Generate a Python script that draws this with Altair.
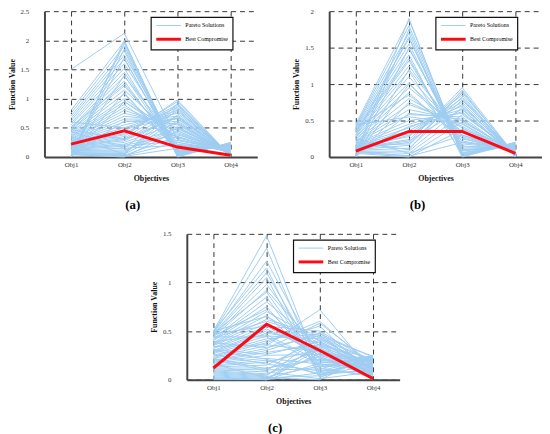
import altair as alt
import pandas as pd

OBJ = [1, 2, 3, 4]
TYPES = ["Pareto Solutions", "Best Compromise"]

# ---- panel (a) ----
a_obj1 = [1.50, 0.80, 0.75, 0.70, 0.66, 0.62, 0.58, 0.55, 0.50, 0.48, 0.46, 0.45, 0.42, 0.40, 0.38, 0.36, 0.35, 0.33, 0.31, 0.30,
          0.28, 0.27, 0.26, 0.25, 0.24, 0.23, 0.22, 0.21, 0.20, 0.19, 0.18, 0.17, 0.16, 0.15, 0.14, 0.13, 0.12, 0.11, 0.10, 0.09,
          0.08, 0.07, 0.06, 0.05, 0.05, 0.04, 0.04, 0.03, 0.03, 0.02, 0.02, 0.01, 0.01, 0.00, 0.00, 0.47, 0.44, 0.52, 0.60, 0.35]
a_obj2 = [2.12, 1.98, 1.90, 1.82, 1.75, 1.68, 1.60, 1.52, 1.45, 1.38, 1.30, 1.22, 1.15, 1.08, 1.00, 0.95, 0.90, 0.85, 0.80, 0.75,
          0.70, 0.65, 0.60, 0.55, 0.50, 0.45, 0.40, 0.38, 0.35, 0.32, 0.30, 0.28, 0.25, 0.22, 0.20, 0.18, 0.15, 0.12, 0.10, 0.08,
          0.06, 0.05, 0.04, 0.03, 0.02, 0.01, 0.00, 1.95, 1.70, 1.40, 1.10, 0.95, 0.62, 2.00, 1.85, 0.30, 0.15, 1.25, 0.50, 0.05]
a_obj3 = [0.30, 0.05, 0.10, 0.02, 0.15, 0.08, 0.20, 0.03, 0.12, 0.25, 0.06, 0.18, 0.30, 0.10, 0.35, 0.40, 0.22, 0.45, 0.50, 0.55,
          0.60, 0.65, 0.70, 0.75, 0.80, 0.85, 0.90, 0.95, 0.98, 0.88, 0.78, 0.68, 0.58, 0.48, 0.38, 0.28, 0.20, 0.42, 0.52, 0.62,
          0.72, 0.82, 0.92, 0.35, 0.25, 0.15, 0.45, 0.00, 0.04, 0.07, 0.11, 0.33, 0.57, 0.01, 0.09, 0.70, 0.85, 0.14, 0.66, 0.50]
a_obj4 = [0.10, 0.22, 0.18, 0.24, 0.15, 0.20, 0.12, 0.23, 0.16, 0.09, 0.21, 0.14, 0.08, 0.19, 0.07, 0.06, 0.13, 0.05, 0.04, 0.06,
          0.03, 0.05, 0.02, 0.04, 0.02, 0.03, 0.01, 0.02, 0.01, 0.03, 0.04, 0.05, 0.06, 0.08, 0.10, 0.12, 0.15, 0.07, 0.05, 0.04,
          0.03, 0.02, 0.01, 0.09, 0.11, 0.17, 0.06, 0.25, 0.22, 0.20, 0.18, 0.09, 0.04, 0.24, 0.21, 0.03, 0.02, 0.19, 0.05, 0.08]
a_best = [0.22, 0.45, 0.17, 0.03]

# ---- panel (b) ----
b_obj1 = [0.45, 0.43, 0.42, 0.40, 0.38, 0.36, 0.35, 0.33, 0.31, 0.30, 0.28, 0.27, 0.25, 0.24, 0.22, 0.21, 0.20, 0.19, 0.18, 0.17,
          0.16, 0.15, 0.14, 0.13, 0.12, 0.11, 0.10, 0.09, 0.08, 0.07, 0.06, 0.05, 0.04, 0.03, 0.02, 0.01, 0.00, 0.00, 0.02, 0.05,
          0.10, 0.15, 0.20, 0.25, 0.30, 0.35, 0.40, 0.44, 0.12, 0.08]
b_obj2 = [1.88, 1.80, 1.70, 1.62, 1.55, 1.48, 1.40, 1.32, 1.25, 1.18, 1.10, 1.02, 0.95, 0.88, 0.80, 0.72, 0.65, 0.58, 0.50, 0.45,
          0.40, 0.36, 0.32, 0.28, 0.24, 0.20, 0.16, 0.12, 0.08, 0.05, 0.02, 0.00, 1.90, 1.75, 1.50, 1.20, 1.00, 0.75, 0.60, 0.42,
          0.30, 0.18, 0.10, 0.05, 1.65, 1.35, 0.85, 0.55, 0.22, 0.01]
b_obj3 = [0.05, 0.10, 0.02, 0.15, 0.08, 0.20, 0.00, 0.12, 0.25, 0.04, 0.30, 0.18, 0.35, 0.22, 0.40, 0.45, 0.50, 0.55, 0.60, 0.65,
          0.70, 0.75, 0.80, 0.85, 0.90, 0.95, 0.88, 0.78, 0.68, 0.58, 0.48, 0.38, 0.01, 0.06, 0.14, 0.28, 0.33, 0.42, 0.52, 0.62,
          0.72, 0.82, 0.92, 0.30, 0.03, 0.09, 0.26, 0.46, 0.66, 0.20]
b_obj4 = [0.18, 0.15, 0.20, 0.12, 0.17, 0.10, 0.19, 0.14, 0.08, 0.16, 0.06, 0.11, 0.05, 0.09, 0.04, 0.03, 0.05, 0.02, 0.04, 0.01,
          0.03, 0.02, 0.01, 0.00, 0.01, 0.02, 0.03, 0.04, 0.06, 0.07, 0.09, 0.12, 0.20, 0.18, 0.13, 0.07, 0.06, 0.04, 0.03, 0.02,
          0.01, 0.02, 0.00, 0.10, 0.19, 0.15, 0.08, 0.05, 0.02, 0.14]
b_best = [0.08, 0.35, 0.35, 0.05]

# ---- panel (c) ----
c_obj1 = [0.50, 0.49, 0.48, 0.47, 0.46, 0.45, 0.44, 0.42, 0.41, 0.40, 0.38, 0.37, 0.36, 0.35, 0.33, 0.32, 0.30, 0.29, 0.28, 0.27,
          0.25, 0.24, 0.23, 0.22, 0.20, 0.19, 0.18, 0.17, 0.15, 0.14, 0.13, 0.12, 0.11, 0.10, 0.09, 0.08, 0.07, 0.06, 0.05, 0.04,
          0.03, 0.02, 0.01, 0.00, 0.50, 0.48, 0.45, 0.43, 0.39, 0.34, 0.31, 0.26, 0.21, 0.16, 0.50, 0.47, 0.44, 0.38, 0.30, 0.22]
c_obj2 = [1.48, 1.35, 1.22, 1.10, 1.05, 0.98, 0.92, 0.85, 0.80, 0.75, 0.70, 0.66, 0.62, 0.58, 0.55, 0.52, 0.50, 0.48, 0.45, 0.42,
          0.40, 0.38, 0.35, 0.32, 0.30, 0.28, 0.25, 0.22, 0.20, 0.18, 0.15, 0.12, 0.10, 0.08, 0.06, 0.05, 0.04, 0.03, 0.02, 0.01,
          0.00, 0.00, 0.00, 0.00, 1.15, 0.90, 0.72, 0.60, 0.46, 0.36, 0.26, 0.16, 0.09, 0.02, 0.65, 0.55, 0.44, 0.33, 0.21, 0.11]
c_obj3 = [0.10, 0.05, 0.20, 0.15, 0.02, 0.25, 0.30, 0.08, 0.35, 0.12, 0.40, 0.18, 0.45, 0.22, 0.50, 0.28, 0.33, 0.38, 0.42, 0.47,
          0.55, 0.60, 0.72, 0.58, 0.48, 0.36, 0.26, 0.16, 0.06, 0.31, 0.41, 0.21, 0.11, 0.01, 0.24, 0.34, 0.44, 0.14, 0.04, 0.27,
          0.37, 0.17, 0.07, 0.32, 0.03, 0.13, 0.23, 0.43, 0.19, 0.29, 0.39, 0.09, 0.49, 0.00, 0.35, 0.25, 0.15, 0.45, 0.05, 0.30]
c_obj4 = [0.05, 0.10, 0.15, 0.20, 0.25, 0.08, 0.12, 0.18, 0.22, 0.03, 0.06, 0.14, 0.24, 0.09, 0.17, 0.21, 0.01, 0.11, 0.19, 0.23,
          0.04, 0.13, 0.07, 0.16, 0.02, 0.10, 0.20, 0.12, 0.22, 0.06, 0.15, 0.18, 0.25, 0.08, 0.03, 0.14, 0.19, 0.11, 0.24, 0.05,
          0.16, 0.21, 0.09, 0.13, 0.17, 0.23, 0.02, 0.12, 0.20, 0.07, 0.15, 0.22, 0.10, 0.25, 0.04, 0.18, 0.14, 0.08, 0.21, 0.01]
c_best = [0.12, 0.57, 0.30, 0.01]

FONT = "Liberation Serif"
BLUE = "#9ecdf2"
RED = "#ff0a14"


def frame(o1, o2, o3, o4, best):
    rows = []
    for i, vals in enumerate(zip(o1, o2, o3, o4)):
        for k, v in zip(OBJ, vals):
            rows.append({"id": i, "obj": k, "value": v, "type": TYPES[0]})
    for k, v in zip(OBJ, best):
        rows.append({"id": -1, "obj": k, "value": v, "type": TYPES[1]})
    return pd.DataFrame(rows)


def panel(df, ymax, ystep, label):
    yticks = [round(i * ystep, 2) for i in range(int(round(ymax / ystep)) + 1)]
    x = alt.X("obj:Q", scale=alt.Scale(domain=[0.5, 4.5], nice=False, zero=False),
              axis=alt.Axis(values=OBJ, labelExpr="'Obj' + datum.value", title="Objectives",
                            tickSize=0, labelPadding=4, titlePadding=7))
    y = alt.Y("value:Q", scale=alt.Scale(domain=[0, ymax], nice=False),
              axis=alt.Axis(values=yticks, format="~g", title="Function Value", tickSize=0,
                            labelPadding=16, titlePadding=4))
    color = alt.Color("type:N", scale=alt.Scale(domain=TYPES, range=[BLUE, RED]),
                      legend=alt.Legend(title=None, orient="none", legendX=108, legendY=6,
                                        symbolType="M-1,0H5.25", symbolSize=64, labelOffset=20,
                                        labelExpr="datum.label + '                          '"))
    sw = alt.StrokeWidth("type:N", scale=alt.Scale(domain=TYPES, range=[1.0, 3.0]))
    base = alt.Chart(df)
    pareto = base.transform_filter(alt.datum.type == TYPES[0]).mark_line().encode(
        x=x, y=y, detail="id:N", color=color, strokeWidth=sw)
    best = base.transform_filter(alt.datum.type == TYPES[1]).mark_line().encode(
        x=x, y=y, detail="id:N", color=color, strokeWidth=sw)
    return alt.layer(pareto, best).properties(
        width=216, height=148,
        title=alt.TitleParams(label, orient="bottom", fontSize=13, fontWeight="bold",
                              font=FONT, offset=17, anchor="middle", frame="bounds"))


pa = panel(frame(a_obj1, a_obj2, a_obj3, a_obj4, a_best), 2.5, 0.5, "(a)")
pb = panel(frame(b_obj1, b_obj2, b_obj3, b_obj4, b_best), 2.0, 0.5, "(b)")
pc = panel(frame(c_obj1, c_obj2, c_obj3, c_obj4, c_best), 1.5, 0.5, "(c)")

top = alt.hconcat(pa, pb, spacing=36).resolve_scale(
    color="independent", strokeWidth="independent").resolve_legend(
    color="independent", strokeWidth="independent")
chart = alt.vconcat(top, pc, spacing=18, center=True).resolve_scale(
    color="independent", strokeWidth="independent").resolve_legend(
    color="independent", strokeWidth="independent").properties(
    padding={"left": 0, "top": -4, "right": 0, "bottom": 0}
).configure(font=FONT).configure_view(
    stroke=None
).configure_axis(
    labelFont=FONT, titleFont=FONT, labelFontSize=7, titleFontSize=8, titleFontWeight="bold",
    labelColor="#333", titleColor="#111", zindex=1,
    gridColor="#000", gridDash=[5, 4], gridWidth=1, gridOpacity=0.8,
    domainColor="#444", domainWidth=2,
).configure_legend(
    labelFont=FONT, labelFontSize=6, strokeColor="#111", strokeWidth=1.2, fillColor="white",
    padding=4, rowPadding=4, symbolStrokeWidth=2,
)

chart.save("out.html", embed_options={"renderer": "svg", "actions": False})
